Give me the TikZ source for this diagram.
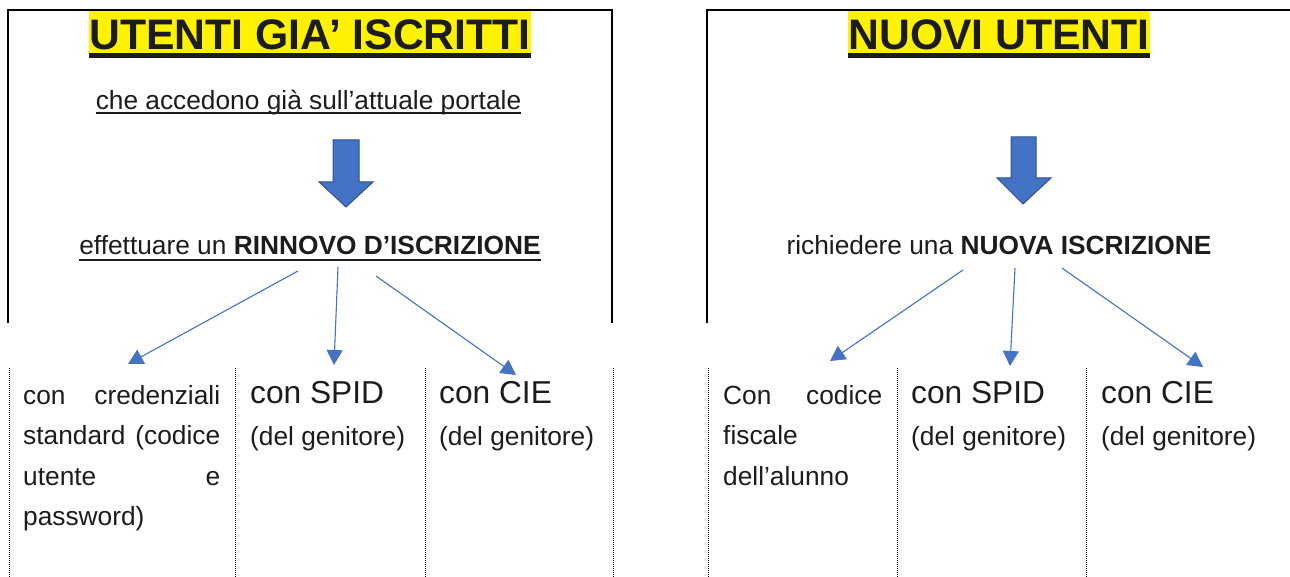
\documentclass[tikz,border=0pt]{standalone}
\usepackage{fontspec}
\setmainfont{Liberation Sans}
\usetikzlibrary{arrows.meta}
\definecolor{arrowblue}{HTML}{4472C4}
\definecolor{arrowedge}{HTML}{2F528F}
\definecolor{ink}{HTML}{1C1C1C}

\begin{document}
\begin{tikzpicture}[x=1pt,y=-1pt,
  frame/.style={line width=2pt,black},
  column/.style={line width=1pt,dash pattern=on 1pt off 1pt},
  title/.style={fill=yellow,inner sep=0pt,text height=39pt,text depth=3pt,
    font=\fontsize{42.7}{50}\selectfont\bfseries,text=ink},
  body/.style={inner sep=0pt,font=\fontsize{26.3}{40.5}\selectfont,text=ink},
  big/.style={inner sep=0pt,font=\fontsize{31.7}{40}\selectfont,text=ink},
  link/.style={arrowblue,line width=1.1pt,-{Triangle[length=15pt,width=16pt]}},
  blockarrow/.style={fill=arrowblue,draw=arrowedge,line width=1pt}]

  \useasboundingbox (0,0) rectangle (1290,577);

  % Open frames round the two upper parts
  \draw[frame] (8,323) -- (8,10) -- (612,10) -- (612,323);
  \draw[frame] (707,323) -- (707,10) -- (1290,10);

  % Dotted column rules of the lower table
  \foreach \x in {9,235,425,613,708,897,1086}
    \draw[column] (\x,368) -- (\x,577);

  % Left part: registered users
  \node[title,anchor=base] (oldTitle) at (310,50) {UTENTI GIA’ ISCRITTI};
  \draw[ink,line width=4.5pt] ([yshift=-2.3pt]oldTitle.south west) -- ([yshift=-2.3pt]oldTitle.south east);

  \node[body,anchor=base] (oldSub) at (308.5,110) {che accedono già sull’attuale portale};
  \draw[ink,line width=1.5pt] ([yshift=-3pt]oldSub.base west) -- ([yshift=-3pt]oldSub.base east);

  \filldraw[blockarrow] (333,140) -- (359,140) -- (359,182) -- (373,182)
    -- (346,207) -- (319,182) -- (333,182) -- cycle;

  \node[body,anchor=base] (renew) at (310,255) {effettuare un {\bfseries RINNOVO D’ISCRIZIONE}};
  \draw[ink,line width=2pt] ([yshift=-5pt]renew.base west) -- ([yshift=-5pt]renew.base east);

  % Right part: new users
  \node[title,anchor=base] (newTitle) at (999,50) {NUOVI UTENTI};
  \draw[ink,line width=4.5pt] ([yshift=-2.3pt]newTitle.south west) -- ([yshift=-2.3pt]newTitle.south east);

  \filldraw[blockarrow] (1011,137) -- (1036,137) -- (1036,178) -- (1051,178)
    -- (1023,204) -- (997,178) -- (1011,178) -- cycle;

  \node[body,anchor=base] (newReq) at (999,255) {richiedere una {\bfseries NUOVA ISCRIZIONE}};

  % Table cells, left
  \node[body,anchor=base west,text width=197pt,align=justify] (cred) at (23,404)
    {con credenziali\break standard (codice\break utente e\break password)};
  \node[big,anchor=base west] (oldSpid) at (250,403) {con SPID};
  \node[body,anchor=base west] (oldSpidG) at (250,445) {(del genitore)};
  \node[big,anchor=base west] (oldCie) at (439,403) {con CIE};
  \node[body,anchor=base west] (oldCieG) at (439,445) {(del genitore)};

  % Table cells, right
  \node[body,anchor=base west,text width=159pt,align=justify] (cf) at (723,404)
    {Con codice\break fiscale\break dell’alunno};
  \node[big,anchor=base west] (newSpid) at (911,403) {con SPID};
  \node[body,anchor=base west] (newSpidG) at (911,445) {(del genitore)};
  \node[big,anchor=base west] (newCie) at (1101,403) {con CIE};
  \node[body,anchor=base west] (newCieG) at (1101,445) {(del genitore)};

  % Arrow ends
  \coordinate (renewA) at (298,271);
  \coordinate (renewB) at (338,267);
  \coordinate (renewC) at (376,276);
  \coordinate (credTip) at (128,364);
  \coordinate (oldSpidTip) at (334,365);
  \coordinate (oldCieTip) at (516,375);
  \coordinate (reqA) at (963,270);
  \coordinate (reqB) at (1015,268);
  \coordinate (reqC) at (1062,268);
  \coordinate (cfTip) at (830,361);
  \coordinate (newSpidTip) at (1010,366);
  \coordinate (newCieTip) at (1203,367);

  \draw[link] (renewA) -- (credTip);
  \draw[link] (renewB) -- (oldSpidTip);
  \draw[link] (renewC) -- (oldCieTip);
  \draw[link] (reqA) -- (cfTip);
  \draw[link] (reqB) -- (newSpidTip);
  \draw[link] (reqC) -- (newCieTip);

\end{tikzpicture}
\end{document}
